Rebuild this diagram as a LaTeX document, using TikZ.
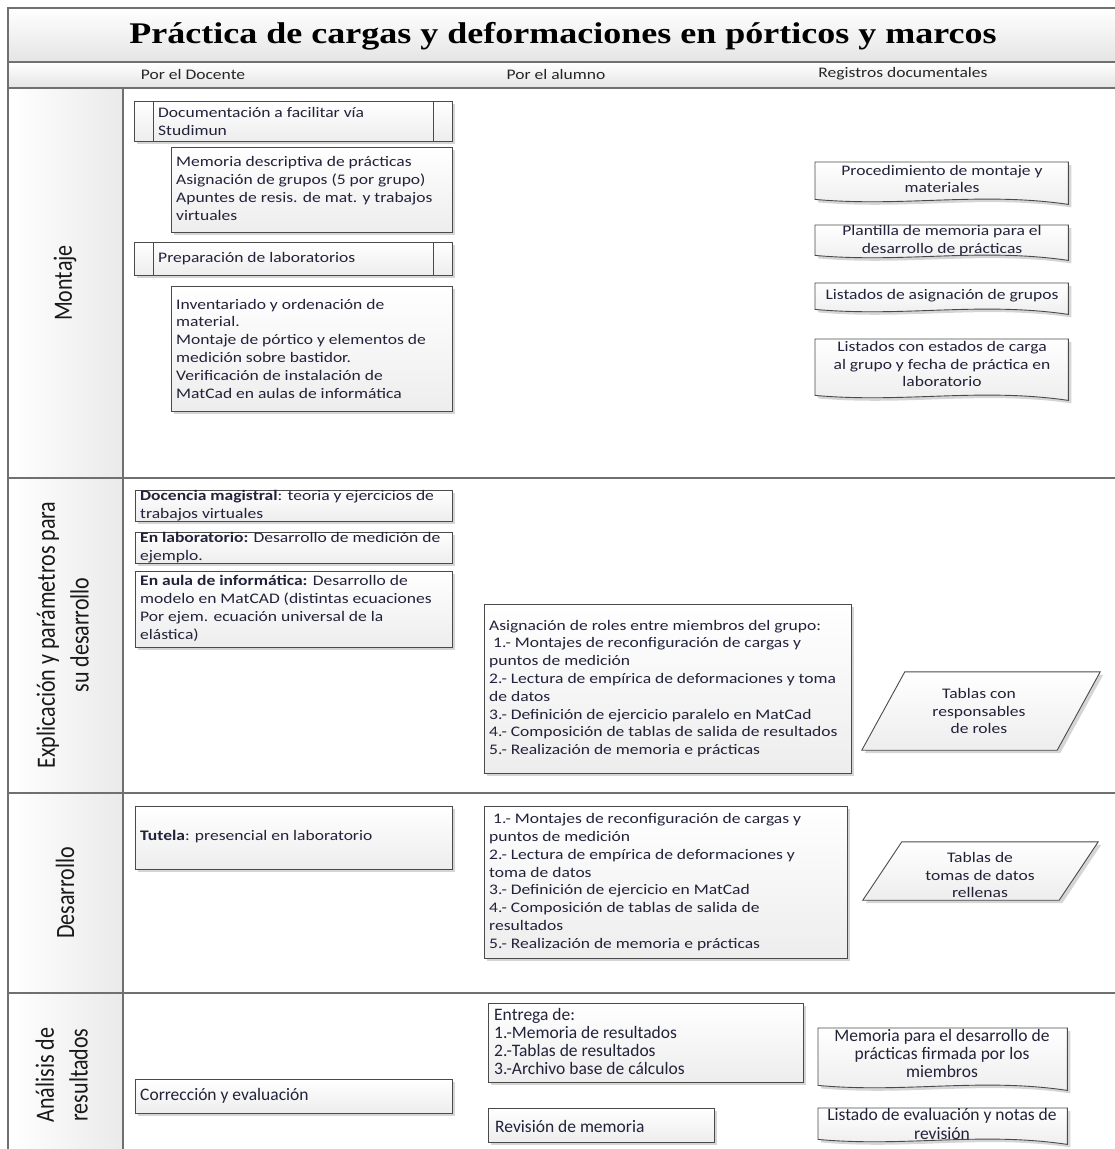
\documentclass[tikz,border=0pt]{standalone}
\usepackage{fontspec}
\setmainfont{Carlito}[FakeStretch=1.2]
\newfontfamily\plainfont{Carlito}
\newfontfamily\titlefont{Liberation Serif}[FakeStretch=1.2]
\usetikzlibrary{shadows,calc}
\definecolor{txt}{HTML}{22223A}
\definecolor{edge}{HTML}{4A4A4A}
\definecolor{lanecol}{HTML}{707070}
\definecolor{shade}{HTML}{EDEDED}
\definecolor{bandgray}{HTML}{E4E4E4}
\definecolor{colgray}{HTML}{EAEAEA}
\newcommand\bdyfont{\fontsize{14.6}{17.8}\selectfont}
\newcommand\cndfont{\plainfont\fontsize{17.5}{18.3}\selectfont}
\newcommand\lblfont{\plainfont\fontsize{22}{28}\selectfont}
\begin{document}
\begin{tikzpicture}[x=1pt,y=-1pt,
  lanel/.style={draw=lanecol,line width=1.2pt},
  shad/.style={drop shadow={shadow xshift=3pt,shadow yshift=-3pt,opacity=.3,fill=black!55}},
  box/.style={draw=edge,line width=0.9pt,top color=white,bottom color=shade,anchor=north west,inner sep=0pt,shad},
  ghost/.style={anchor=north west,inner sep=0pt,draw=none},
  docshape/.style={draw=edge,line width=0.9pt,top color=white,bottom color=shade,shad},
  tl/.style={anchor=west,align=left,inner sep=0pt,text=txt,font=\bdyfont},
  tc/.style={align=center,inner sep=0pt,text=txt,font=\bdyfont},
  hd/.style={inner sep=0pt,text=black!85,font=\bdyfont},
  lbl/.style={rotate=90,inner sep=0pt,text=black!90}
]
\useasboundingbox (0,0) rectangle (1115,1149);
\clip (0,0) rectangle (1115,1149);
% ---- frame ----
\path[top color=white,bottom color=bandgray] (8,8) rectangle (1130,62);
\path[top color=white,bottom color=bandgray] (8,62) rectangle (1130,88);
\path[left color=white,right color=colgray] (8,88) rectangle (123,1160);
\draw[lanel] (1130,8) -- (8,8) -- (8,1160);
\draw[lanel] (8,62) -- (1130,62);
\draw[lanel] (8,88) -- (1130,88);
\draw[lanel] (123,88) -- (123,1160);
\draw[lanel] (8,478) -- (1130,478);
\draw[lanel] (8,793) -- (1130,793);
\draw[lanel] (8,993) -- (1130,993);
% ---- title and headers ----
\node[inner sep=0pt,font=\titlefont\bfseries\fontsize{30}{36}\selectfont] (title) at (563,36) {Práctica de cargas y deformaciones en pórticos y marcos};
\node[hd] (hdoc) at (193,74) {Por el Docente};
\node[hd] (halu) at (556,74) {Por el alumno};
\node[hd] (hreg) at (903,74) {Registros documentales};
% ---- lane labels ----
\node[lbl] (lmon) at (65,283) {\scalebox{1}[1.2]{\lblfont Montaje}};
\node[lbl] (lexp) at (65,635) {\scalebox{1}[1.2]{\lblfont\begin{tabular}{@{}c@{}}Explicación y parámetros para\\su desarrollo\end{tabular}}};
\node[lbl] (ldes) at (65,893) {\scalebox{1}[1.2]{\lblfont Desarrollo}};
\node[lbl] (lana) at (64,1075) {\scalebox{1}[1.2]{\lblfont\begin{tabular}{@{}c@{}}Análisis de\\resultados\end{tabular}}};
% ---- Montaje: docente ----
\node[box,minimum width=318pt,minimum height=40pt] (docu) at (134,101) {};
\draw[draw=edge,line width=0.9pt] ($(docu.north west)+(19,0)$) -- ($(docu.south west)+(19,0)$);
\draw[draw=edge,line width=0.9pt] ($(docu.north east)+(-19,0)$) -- ($(docu.south east)+(-19,0)$);
\node[tl] (tdocu) at (158,121.5) {Documentación a facilitar vía\\Studimun};
\node[box,minimum width=281pt,minimum height=85pt] (memo) at (171,147) {};
\node[tl] (tmemo) at (176,188.5) {Memoria descriptiva de prácticas\\Asignación de grupos (5 por grupo)\\Apuntes de resis. de mat. y trabajos\\virtuales};
\node[box,minimum width=318pt,minimum height=33pt] (prep) at (134,242) {};
\draw[draw=edge,line width=0.9pt] ($(prep.north west)+(19,0)$) -- ($(prep.south west)+(19,0)$);
\draw[draw=edge,line width=0.9pt] ($(prep.north east)+(-19,0)$) -- ($(prep.south east)+(-19,0)$);
\node[tl] (tprep) at (158,258.5) {Preparación de laboratorios};
\node[box,minimum width=281pt,minimum height=125pt] (inve) at (171,286) {};
\node[tl] (tinve) at (176,348.5) {Inventariado y ordenación de\\material.\\Montaje de pórtico y elementos de\\medición sobre bastidor.\\Verificación de instalación de\\MatCad en aulas de informática};
% ---- Montaje: registros ----
\node[ghost,minimum width=253pt,minimum height=37pt] (dproc) at (815,162) {};
\path[docshape] (dproc.north west) -- (dproc.north east) -- ($(dproc.south east)+(0,5)$) .. controls ($(dproc.south west)!0.65!(dproc.south east)+(0,-8)$) and ($(dproc.south west)!0.35!(dproc.south east)+(0,8)$) .. (dproc.south west) -- cycle;
\node[tc] (tdproc) at (942,179) {Procedimiento de montaje y\\materiales};
\node[ghost,minimum width=253pt,minimum height=30pt] (dplan) at (815,225) {};
\path[docshape] (dplan.north west) -- (dplan.north east) -- ($(dplan.south east)+(0,5)$) .. controls ($(dplan.south west)!0.65!(dplan.south east)+(0,-8)$) and ($(dplan.south west)!0.35!(dplan.south east)+(0,8)$) .. (dplan.south west) -- cycle;
\node[tc] (tdplan) at (942,241) {Plantilla de memoria para el\\desarrollo de prácticas};
\node[ghost,minimum width=253pt,minimum height=26pt] (dlist) at (815,283) {};
\path[docshape] (dlist.north west) -- (dlist.north east) -- ($(dlist.south east)+(0,5)$) .. controls ($(dlist.south west)!0.65!(dlist.south east)+(0,-8)$) and ($(dlist.south west)!0.35!(dlist.south east)+(0,8)$) .. (dlist.south west) -- cycle;
\node[tc] (tdlist) at (942,296) {Listados de asignación de grupos};
\node[ghost,minimum width=253pt,minimum height=56pt] (dlest) at (815,339) {};
\path[docshape] (dlest.north west) -- (dlest.north east) -- ($(dlest.south east)+(0,5)$) .. controls ($(dlest.south west)!0.65!(dlest.south east)+(0,-8)$) and ($(dlest.south west)!0.35!(dlest.south east)+(0,8)$) .. (dlest.south west) -- cycle;
\node[tc] (tdlest) at (942,364) {Listados con estados de carga\\al grupo y fecha de práctica en\\laboratorio};
% ---- Explicacion ----
\node[box,minimum width=317pt,minimum height=31pt] (doce) at (135,490) {};
\node[tl] (tdoce) at (140,505.5) {\textbf{Docencia magistral}: teoria y ejercicios de\\trabajos virtuales};
\node[box,minimum width=317pt,minimum height=31pt] (labo) at (135,532) {};
\node[tl] (tlabo) at (140,547.5) {\textbf{En laboratorio:} Desarrollo de medición de\\ejemplo.};
\node[box,minimum width=317pt,minimum height=76pt] (aula) at (135,571) {};
\node[tl] (taula) at (140,608.5) {\textbf{En aula de informática:} Desarrollo de\\modelo en MatCAD (distintas ecuaciones\\Por ejem. ecuación universal de la\\elástica)};
\node[box,minimum width=367pt,minimum height=169pt] (roles) at (484,604) {};
\node[tl] (troles) at (489,688.5) {Asignación de roles entre miembros del grupo:\\\ 1.- Montajes de reconfiguración de cargas y\\puntos de medición\\2.- Lectura de empírica de deformaciones y toma\\de datos\\3.- Definición de ejercicio paralelo en MatCad\\4.- Composición de tablas de salida de resultados\\5.- Realización de memoria e prácticas};
\node[inner sep=0pt,minimum width=195pt,minimum height=78pt] (par1) at (981,711) {};
\path[docshape] ($(par1.north west)+(21.5,0)$) -- ($(par1.north east)+(21.5,0)$) -- ($(par1.south east)+(-21.5,0)$) -- ($(par1.south west)+(-21.5,0)$) -- cycle;
\node[tc] (tpar1) at (979,711) {Tablas con\\responsables\\de roles};
% ---- Desarrollo ----
\node[box,minimum width=317pt,minimum height=63pt] (tute) at (135,806) {};
\node[tl] (ttute) at (140,837) {\textbf{Tutela}: presencial en laboratorio};
\node[box,minimum width=363pt,minimum height=152pt] (medi) at (484,806) {};
\node[tl] (tmedi) at (489,882) {\ 1.- Montajes de reconfiguración de cargas y\\puntos de medición\\2.- Lectura de empírica de deformaciones y\\toma de datos\\3.- Definición de ejercicio en MatCad\\4.- Composición de tablas de salida de\\resultados\\5.- Realización de memoria e prácticas};
\node[inner sep=0pt,minimum width=196pt,minimum height=58pt] (par2) at (980.5,871) {};
\path[docshape] ($(par2.north west)+(19.5,0)$) -- ($(par2.north east)+(19.5,0)$) -- ($(par2.south east)+(-19.5,0)$) -- ($(par2.south west)+(-19.5,0)$) -- cycle;
\node[tc] (tpar2) at (980,875) {Tablas de\\tomas de datos\\rellenas};
% ---- Analisis ----
\node[box,minimum width=315pt,minimum height=79pt] (entr) at (488,1003) {};
\node[tl,font=\cndfont] (tentr) at (494,1041.5) {Entrega de:\\1.-Memoria de resultados\\2.-Tablas de resultados\\3.-Archivo base de cálculos};
\node[box,minimum width=317pt,minimum height=34pt] (corr) at (135,1079) {};
\node[tl,font=\cndfont] (tcorr) at (140,1096) {Corrección y evaluación};
\node[box,minimum width=226pt,minimum height=34pt] (revi) at (488,1108) {};
\node[tl,font=\cndfont] (trevi) at (495,1126) {Revisión de memoria};
\node[ghost,minimum width=249pt,minimum height=57pt] (dmemo) at (818,1028) {};
\path[docshape] (dmemo.north west) -- (dmemo.north east) -- ($(dmemo.south east)+(0,5)$) .. controls ($(dmemo.south west)!0.65!(dmemo.south east)+(0,-8)$) and ($(dmemo.south west)!0.35!(dmemo.south east)+(0,8)$) .. (dmemo.south west) -- cycle;
\node[tc,font=\cndfont] (tdmemo) at (942,1053.5) {Memoria para el desarrollo de\\prácticas firmada por los\\miembros};
\node[ghost,minimum width=249pt,minimum height=31pt] (dlev) at (818,1108) {};
\path[docshape] (dlev.north west) -- (dlev.north east) -- ($(dlev.south east)+(0,5)$) .. controls ($(dlev.south west)!0.65!(dlev.south east)+(0,-8)$) and ($(dlev.south west)!0.35!(dlev.south east)+(0,8)$) .. (dlev.south west) -- cycle;
\node[tc,font=\cndfont] (tdlev) at (942,1124) {Listado de evaluación y notas de\\revisión};
\end{tikzpicture}
\end{document}
